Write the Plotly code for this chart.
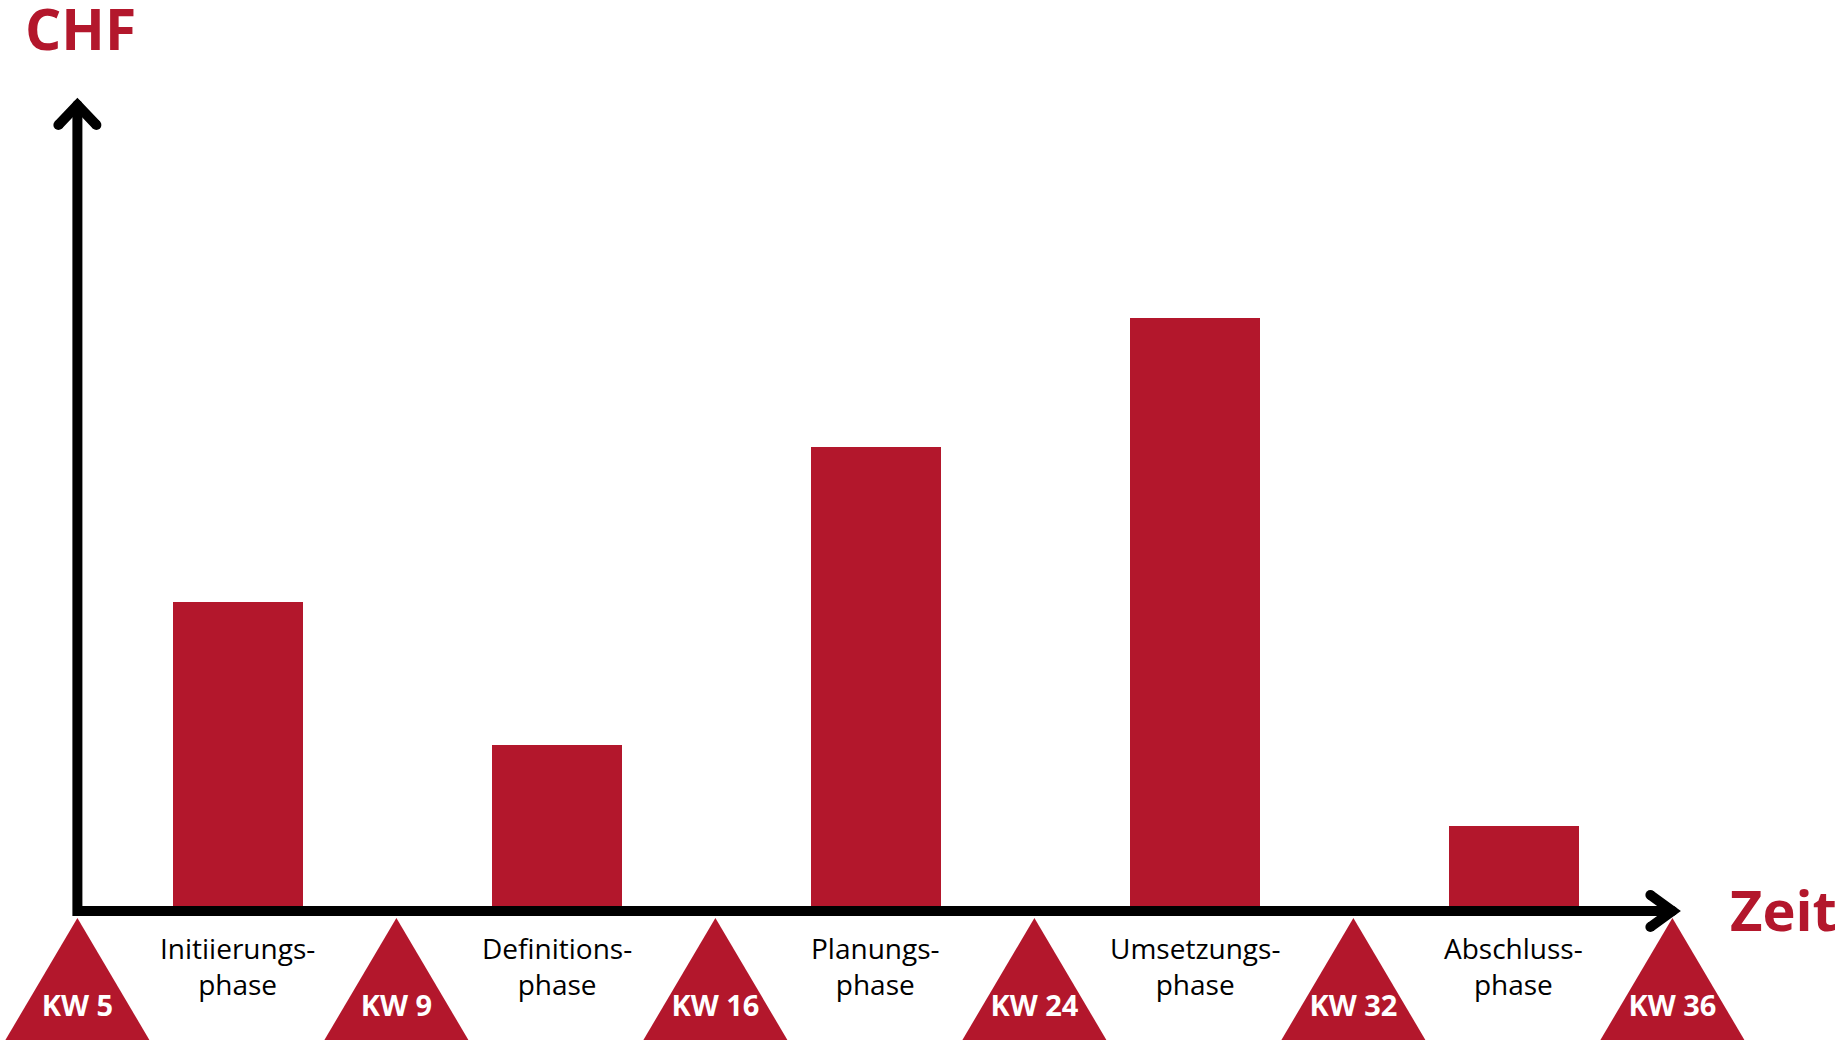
import plotly.graph_objects as go

# Data
phases = ["Initiierungs-<br>phase", "Definitions-<br>phase", "Planungs-<br>phase",
          "Umsetzungs-<br>phase", "Abschluss-<br>phase"]
costs = [30.9, 16.6, 46.4, 59.3, 8.5]  # relative cost (CHF)
milestones = ["KW 5", "KW 9", "KW 16", "KW 24", "KW 32", "KW 36"]

RED = "#B3172C"
W, H = 1838, 1042

# Scale: one milestone step on x, y in cost units
x_px = 319.0          # pixels per milestone step
y_px = 10.0           # pixels per cost unit
x0_px = 77.4          # left milestone position
base_px = 911.0       # baseline position from top

x_range = [-x0_px / x_px, (W - x0_px) / x_px]
y_range = [-(H - base_px) / y_px, base_px / y_px]

mile_x = list(range(len(milestones)))
phase_x = [i + 0.5 for i in range(len(phases))]

fig = go.Figure()

# Bars (drawn slightly right of the midpoints, as in the original)
fig.add_trace(go.Bar(x=phase_x, y=costs, width=130 / x_px, offset=-64 / x_px,
                     marker=dict(color=RED, line=dict(width=0)), hoverinfo="skip"))

# Milestone triangles
tri_half = 72 / x_px
tri_top = -7 / y_px
tri_bot = -129 / y_px
for mx in mile_x:
    fig.add_trace(go.Scatter(x=[mx - tri_half, mx, mx + tri_half, mx - tri_half],
                             y=[tri_bot, tri_top, tri_bot, tri_bot],
                             mode="lines", fill="toself", fillcolor=RED,
                             line=dict(width=0, color=RED), hoverinfo="skip"))

fig.add_trace(go.Scatter(x=mile_x, y=[-98 / y_px] * len(mile_x), mode="text", text=milestones,
                         textfont=dict(family="Open Sans", size=29, color="white", weight="bold"),
                         hoverinfo="skip"))

# Axes with arrows
y_top = 806 / y_px
x_end = mile_x[-1]
lw = 10
fig.add_trace(go.Scatter(x=[mile_x[0], mile_x[0], x_end], y=[y_top, 0, 0], mode="lines",
                         line=dict(color="black", width=lw), hoverinfo="skip"))
# y arrow head
ah_x = [mile_x[0] - 19 / x_px, mile_x[0], mile_x[0] + 19 / x_px]
ah_y = [y_top - 20 / y_px, y_top, y_top - 20 / y_px]
fig.add_trace(go.Scatter(x=ah_x, y=ah_y, mode="lines+markers",
                         line=dict(color="black", width=lw),
                         marker=dict(color="black", size=lw, line=dict(width=0)), hoverinfo="skip"))
# x arrow head
ax_x = [x_end - 22 / x_px, x_end, x_end - 22 / x_px]
ax_y = [16 / y_px, 0, -16 / y_px]
fig.add_trace(go.Scatter(x=ax_x, y=ax_y, mode="lines+markers",
                         line=dict(color="black", width=lw),
                         marker=dict(color="black", size=lw, line=dict(width=0)), hoverinfo="skip"))

# Phase labels
for px_, label in zip(phase_x, phases):
    fig.add_annotation(x=px_, y=-54.5 / y_px, xshift=1, text=label, showarrow=False,
                       font=dict(family="Open Sans", size=28, color="black"),
                       xanchor="center", yanchor="middle")

# Axis titles
fig.add_annotation(x=24 / W, y=1, xref="paper", yref="paper", text="CHF", showarrow=False,
                   xanchor="left", yanchor="top", yshift=12, borderpad=0,
                   font=dict(family="Open Sans", size=57, color=RED, weight="bold"))
fig.add_annotation(x=1728 / W, y=1 - 909 / H, xref="paper", yref="paper", text="Zeit", showarrow=False,
                   xanchor="left", yanchor="middle",
                   font=dict(family="Open Sans", size=56, color=RED, weight="bold"))

fig.update_xaxes(range=x_range, visible=False, fixedrange=True)
fig.update_yaxes(range=y_range, visible=False, fixedrange=True)
fig.update_layout(width=W, height=H, autosize=False, margin=dict(l=0, r=0, t=0, b=0),
                  showlegend=False, plot_bgcolor="white", paper_bgcolor="white",
                  bargap=0)

fig.write_html("out.html", config={"displayModeBar": False},
               post_script="document.body.style.margin='0';")
